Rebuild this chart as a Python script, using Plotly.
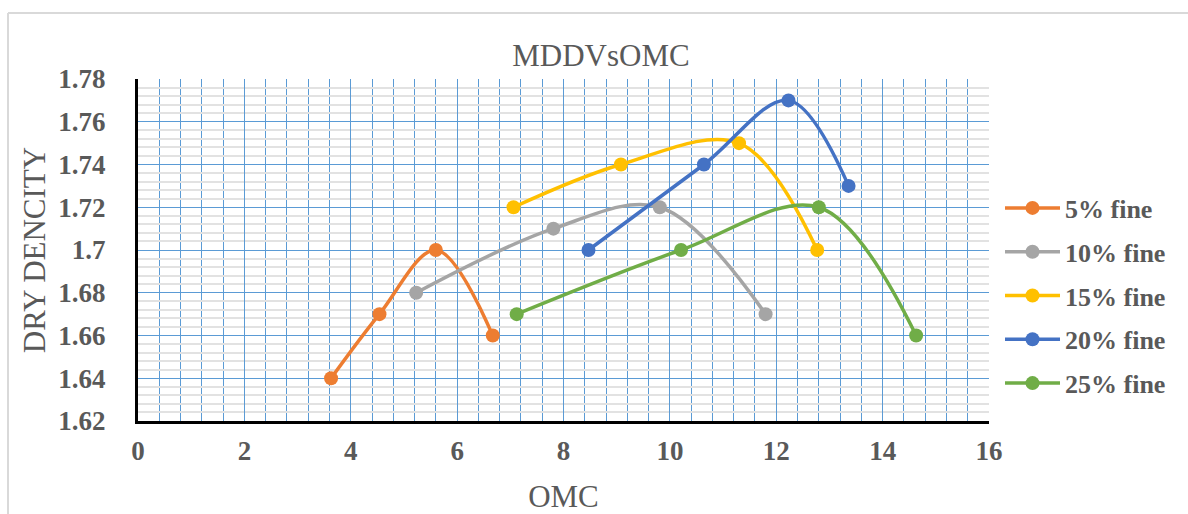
import plotly.graph_objects as go

series_names = ["5% fine", "10% fine", "15% fine", "20% fine", "25% fine"]
omc_5 = [3.63, 4.54, 5.60, 6.67]
mdd_5 = [1.64, 1.67, 1.70, 1.66]
omc_10 = [5.23, 7.81, 9.81, 11.80]
mdd_10 = [1.68, 1.71, 1.72, 1.67]
omc_15 = [7.06, 9.08, 11.30, 12.77]
mdd_15 = [1.72, 1.74, 1.75, 1.70]
omc_20 = [8.47, 10.64, 12.23, 13.36]
mdd_20 = [1.70, 1.74, 1.77, 1.73]
omc_25 = [7.12, 10.21, 12.80, 14.63]
mdd_25 = [1.67, 1.70, 1.72, 1.66]
colors = ["#ED7D31", "#A5A5A5", "#FFC000", "#4472C4", "#70AD47"]

xs = [omc_5, omc_10, omc_15, omc_20, omc_25]
ys = [mdd_5, mdd_10, mdd_15, mdd_20, mdd_25]

FONT = "Liberation Serif"
TXT = "#595959"
BLUE = "#5B9BD5"

fig = go.Figure()
for name, x, y, c in zip(series_names, xs, ys, colors):
    fig.add_trace(go.Scatter(
        x=x, y=y, name=name, mode="lines+markers",
        line=dict(color=c, width=3.5, shape="spline", smoothing=1),
        marker=dict(color=c, size=14),
        legendgroup=name,
    ))

W, H = 1188, 514
L, R, T, B = 138, 199, 79, 93
pw = W - L - R
ph = H - T - B

def px_to_x(px):
    return (px - L) / pw

def py_to_y(py):
    return (H - B - py) / ph

fig.update_layout(
    width=W, height=H,
    margin=dict(l=L, r=R, t=T, b=B, autoexpand=False),
    paper_bgcolor="white", plot_bgcolor="white",
    font=dict(family=FONT, color=TXT),
    title=dict(text="MDDVsOMC", font=dict(size=31, color=TXT, family=FONT),
               x=601 / W, xref="container", xanchor="center",
               y=1 - 55 / H, yref="container", yanchor="middle"),
    showlegend=True,
    legend=dict(x=px_to_x(1000), xanchor="left", y=py_to_y(296), yanchor="middle",
                font=dict(size=26, color=TXT, family=FONT, weight="bold"),
                traceorder="grouped", tracegroupgap=7, itemwidth=55,
                bgcolor="rgba(0,0,0,0)"),
    xaxis=dict(
        range=[0, 16], dtick=2, tick0=0, automargin=False,
        showgrid=True, gridcolor=BLUE, gridwidth=1,
        minor=dict(dtick=0.4, tick0=0, showgrid=True, gridcolor=BLUE, gridwidth=1),
        showline=True, linecolor="black", linewidth=3,
        zeroline=False,
        ticks="", ticklabelstandoff=4,
        tickfont=dict(size=27, color=TXT, family=FONT, weight="bold"),
        title=dict(text="OMC", font=dict(size=31, color=TXT, family=FONT), standoff=23),
    ),
    yaxis=dict(
        range=[1.62, 1.78], dtick=0.02, tick0=1.62, automargin=False,
        tickformat="~r",
        showgrid=True, gridcolor=BLUE, gridwidth=1,
        minor=dict(dtick=0.004, tick0=1.62, showgrid=True, gridcolor="#E2E2E2", gridwidth=1.5),
        showline=True, linecolor="black", linewidth=3,
        zeroline=False,
        ticks="", ticklabelstandoff=24,
        tickfont=dict(size=27, color=TXT, family=FONT, weight="bold"),
        title=dict(text="DRY DENCITY", font=dict(size=31, color=TXT, family=FONT), standoff=4),
    ),
)

# chart border (outer frame)
fig.add_shape(type="line", xref="paper", yref="paper",
              x0=px_to_x(8), x1=px_to_x(1200), y0=py_to_y(13), y1=py_to_y(13),
              line=dict(color="#D9D9D9", width=2), layer="below")
fig.add_shape(type="line", xref="paper", yref="paper",
              x0=px_to_x(8), x1=px_to_x(8), y0=py_to_y(13), y1=py_to_y(530),
              line=dict(color="#D9D9D9", width=2), layer="below")

fig.write_html("out.html")
